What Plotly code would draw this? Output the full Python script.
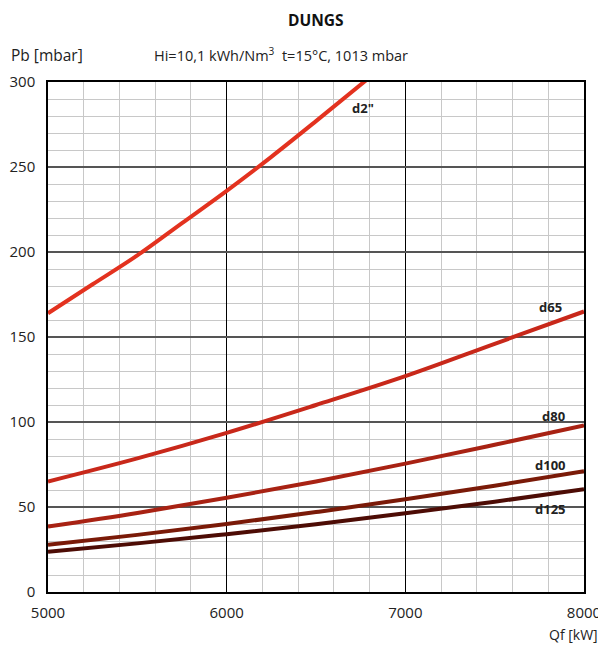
import plotly.graph_objects as go

# flow rate (kW) and pressure drop (mbar)
qf_d2 = [5000, 5250, 5500, 5750, 6000, 6250, 6500, 6780]
pb_d2 = [164, 181, 198, 217, 236, 256, 277, 301]

qf = [5000, 5500, 6000, 6500, 7000, 7500, 8000]
pb_d65 = [65, 78.6, 93.6, 110, 127, 146, 165]
pb_d80 = [38.5, 46.5, 55.4, 65, 75.5, 86.6, 98]
pb_d100 = [27.8, 33.6, 40, 47, 54.5, 62.5, 71]
pb_d125 = [23.6, 28.6, 34, 39.9, 46.3, 53.1, 60.4]

x_ticks = [5000, 6000, 7000, 8000]
y_ticks = [0, 50, 100, 150, 200, 250, 300]

FONT = "Open Sans"

series = [
    ('d2"', qf_d2, pb_d2, "#e3321f", 6763, 285),
    ("d65", qf, pb_d65, "#c8281a", 7815, 167.5),
    ("d80", qf, pb_d80, "#a82213", 7832, 103.5),
    ("d100", qf, pb_d100, "#7a1a08", 7815, 74.7),
    ("d125", qf, pb_d125, "#4d0c05", 7815, 48.8),
]

fig = go.Figure()

for name, xs, ys, color, lx, ly in series:
    fig.add_trace(go.Scatter(
        x=xs, y=ys, name=name, mode="lines",
        line=dict(color=color, width=4, shape="spline"),
    ))
    fig.add_annotation(x=lx, y=ly, text=f"<b>{name}</b>", showarrow=False,
                       font=dict(family=FONT, size=13, color="#222"))

# header texts
fig.add_annotation(xref="paper", yref="paper", x=0.5, y=1.121, text="<b>DUNGS</b>",
                   showarrow=False, font=dict(family=FONT, size=15.5, color="#111"),
                   xanchor="center", yanchor="middle")
fig.add_annotation(xref="paper", yref="paper", x=-0.072, y=1.053, text="Pb [mbar]",
                   showarrow=False, font=dict(family=FONT, size=15.5, color="#222"),
                   xanchor="left", yanchor="middle")
fig.add_annotation(xref="paper", yref="paper", x=0.194, y=1.053,
                   text="Hi=10,1 kWh/Nm<sup>3</sup>  t=15°C, 1013 mbar",
                   showarrow=False, font=dict(family=FONT, size=14.5, color="#222"),
                   xanchor="left", yanchor="middle")
fig.add_annotation(xref="paper", yref="paper", x=1.03, y=-0.084, text="Qf [kW]",
                   showarrow=False, font=dict(family=FONT, size=14, color="#222"),
                   xanchor="right", yanchor="middle")

fig.update_xaxes(
    range=[5000, 8000], tickvals=x_ticks, ticks="", automargin=False,
    ticklabelstandoff=6,
    showgrid=True, gridcolor="#000", gridwidth=1,
    minor=dict(dtick=200, showgrid=True, gridcolor="#c8c8c8", gridwidth=1),
    showline=True, linecolor="#000", linewidth=1.5, mirror=True,
    tickfont=dict(family=FONT, size=15, color="#222"), zeroline=False,
)
fig.update_yaxes(
    range=[0, 300], tickvals=y_ticks, ticks="", automargin=False,
    ticklabelstandoff=8,
    showgrid=True, gridcolor="#555", gridwidth=1.5,
    minor=dict(dtick=10, showgrid=True, gridcolor="#c8c8c8", gridwidth=1),
    showline=True, linecolor="#000", linewidth=1.5, mirror=True,
    tickfont=dict(family=FONT, size=15, color="#222"), zeroline=False,
)

# page body adds an 8px offset, so the figure is 8px smaller with shifted margins
fig.update_layout(
    width=598, height=641,
    margin=dict(l=40, r=22, t=74, b=57),
    showlegend=False,
    plot_bgcolor="white", paper_bgcolor="white",
)

fig.write_html("out.html")
